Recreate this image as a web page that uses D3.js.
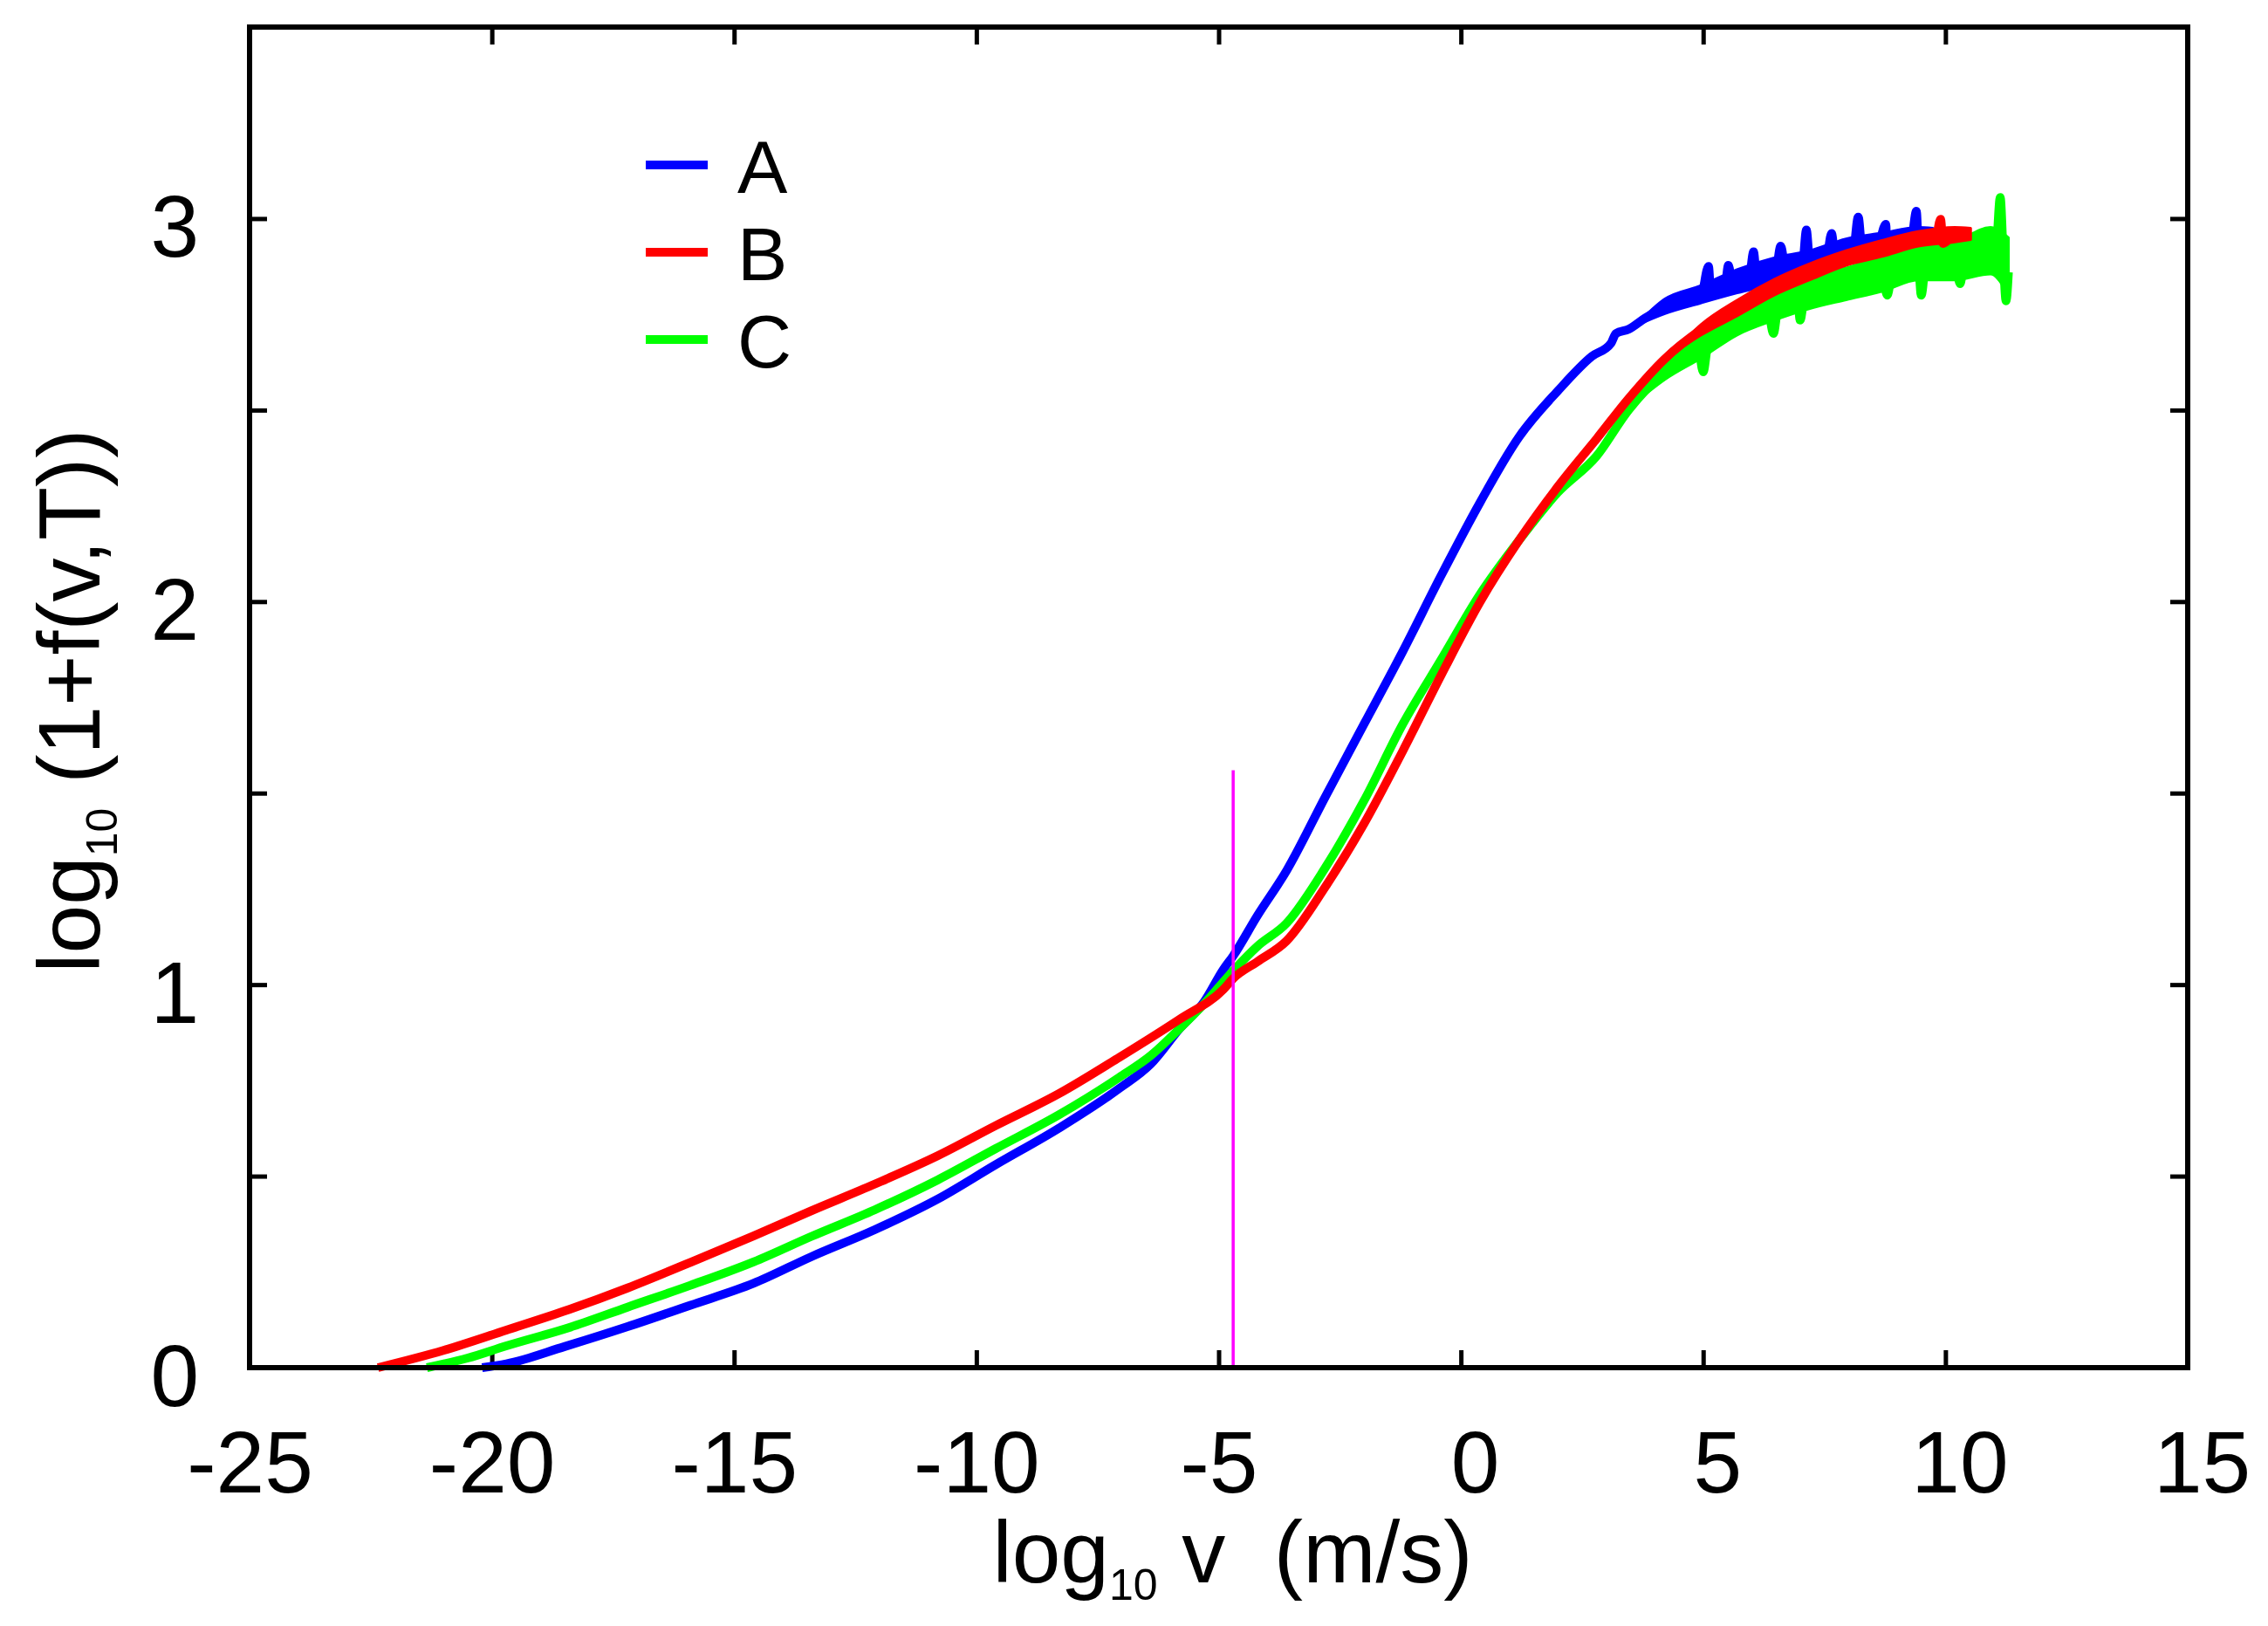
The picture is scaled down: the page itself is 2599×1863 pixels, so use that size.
<!DOCTYPE html>
<html>
<head>
<meta charset="utf-8">
<script src="https://cdn.jsdelivr.net/npm/d3@7"></script>
<style>
  html, body { margin: 0; padding: 0; background: #fff; }
  svg { display: block; }
</style>
</head>
<body>
<svg class="chart"></svg>
<script>
// values
const seriesNames = ["A", "B", "C"];
const seriesColours = ["#0000ff", "#ff0000", "#00ff00"];

const xTicks = [-25, -20, -15, -10, -5, 0, 5, 10, 15];
const yTicks = [0, 0.5, 1, 1.5, 2, 2.5, 3, 3.5];
const yLabelled = [0, 1, 2, 3];

const markerX = -4.7;
const markerTop = 1.56;

// [x, y] along each trace (spikes included where they stand out)
const curveA = [
    [-20.2, 0.0], [-19.7, 0.01], [-18.5, 0.055], [-17.2, 0.107], [-15.9, 0.163],
    [-14.6, 0.22], [-13.4, 0.29], [-12.1, 0.36], [-10.8, 0.44], [-9.6, 0.53],
    [-8.3, 0.625], [-7.05, 0.729], [-6.4, 0.793], [-5.8, 0.886], [-5.3, 0.955],
    [-4.9, 1.04], [-4.7, 1.075], [-4.2, 1.18], [-3.6, 1.297], [-2.8, 1.49],
    [-2.0, 1.68], [-1.2, 1.87], [-0.4, 2.07], [0.4, 2.26], [1.2, 2.43],
    [2.0, 2.55], [2.7, 2.64], [3.1, 2.675], [3.2, 2.70], [3.46, 2.711],
    [3.8, 2.74], [4.21, 2.77], [4.6, 2.79], [4.96, 2.80], [5.11, 2.875],
    [5.16, 2.80], [5.45, 2.82], [5.52, 2.878], [5.6, 2.83], [5.95, 2.845],
    [6.04, 2.913], [6.1, 2.85], [6.5, 2.863], [6.6, 2.928], [6.7, 2.868],
    [7.05, 2.88], [7.13, 2.97], [7.2, 2.886], [7.55, 2.9], [7.65, 2.961],
    [7.72, 2.905], [8.1, 2.918], [8.2, 3.004], [8.28, 2.92], [8.6, 2.928],
    [8.77, 2.985], [8.8, 2.87], [8.85, 2.935], [9.3, 2.95], [9.4, 3.019],
    [9.45, 2.90], [9.5, 2.955], [9.74, 2.96]
];

const curveB = [
    [-22.35, 0.0], [-21.0, 0.045], [-19.7, 0.098], [-18.4, 0.152], [-17.2, 0.208],
    [-15.9, 0.275], [-14.6, 0.344], [-13.4, 0.41], [-12.1, 0.479], [-10.8, 0.553],
    [-9.6, 0.632], [-8.3, 0.715], [-7.05, 0.81], [-5.8, 0.91], [-4.9, 0.988],
    [-4.7, 1.016], [-4.2, 1.06], [-3.6, 1.114], [-2.8, 1.255], [-2.0, 1.42],
    [-1.2, 1.61], [-0.4, 1.81], [0.4, 2.0], [1.2, 2.16], [2.0, 2.30],
    [2.8, 2.425], [3.46, 2.53], [4.21, 2.634], [4.96, 2.71], [5.7, 2.766],
    [6.45, 2.82], [7.2, 2.861], [7.95, 2.897], [8.69, 2.922], [9.44, 2.947],
    [9.8, 2.95], [9.9, 2.998], [9.95, 2.935], [10.19, 2.958], [10.52, 2.962]
];

const curveC = [
    [-21.34, 0.0], [-20.5, 0.025], [-19.7, 0.057], [-18.4, 0.105], [-17.2, 0.158],
    [-15.9, 0.215], [-14.6, 0.276], [-13.4, 0.343], [-12.1, 0.412], [-10.8, 0.49],
    [-9.6, 0.572], [-8.3, 0.66], [-7.05, 0.758], [-6.4, 0.815], [-5.8, 0.886],
    [-5.3, 0.95], [-4.7, 1.036], [-4.2, 1.1], [-3.6, 1.16], [-2.8, 1.305],
    [-2.0, 1.48], [-1.2, 1.68], [-0.4, 1.85], [0.4, 2.02], [1.2, 2.16],
    [2.0, 2.285], [2.8, 2.38], [3.46, 2.50], [4.21, 2.60], [4.9, 2.66],
    [5.0, 2.60], [5.1, 2.67], [5.7, 2.727], [6.35, 2.75], [6.45, 2.70],
    [6.55, 2.77], [6.95, 2.79], [7.0, 2.735], [7.1, 2.80], [7.95, 2.83],
    [8.69, 2.855], [8.8, 2.80], [8.9, 2.86], [9.44, 2.882], [9.5, 2.80],
    [9.6, 2.885], [10.2, 2.89], [10.3, 2.83], [10.4, 2.895], [10.93, 2.91],
    [11.05, 2.93], [11.13, 3.055], [11.2, 2.88], [11.25, 2.785], [11.3, 2.86]
];

// [x, lower edge, upper edge] of the noisy tail of each trace
const bandA = [
    [3.6, 2.72, 2.72], [4.21, 2.752, 2.79], [4.96, 2.78, 2.825], [5.7, 2.806, 2.867],
    [6.45, 2.829, 2.897], [7.2, 2.856, 2.916], [7.95, 2.886, 2.947],
    [8.69, 2.901, 2.962], [9.44, 2.932, 2.977], [9.74, 2.94, 2.975]
];

const bandB = [
    [4.3, 2.64, 2.64], [4.96, 2.696, 2.724], [5.7, 2.746, 2.787], [6.45, 2.799, 2.84],
    [7.2, 2.84, 2.882], [7.95, 2.878, 2.916], [8.69, 2.901, 2.943],
    [9.44, 2.928, 2.966], [10.19, 2.939, 2.977], [10.52, 2.945, 2.975]
];

const bandC = [
    [3.6, 2.52, 2.52], [4.21, 2.58, 2.622], [4.96, 2.636, 2.696], [5.7, 2.696, 2.757],
    [6.45, 2.734, 2.802], [7.2, 2.765, 2.848], [7.95, 2.788, 2.871],
    [8.69, 2.81, 2.901], [9.44, 2.84, 2.924], [10.19, 2.84, 2.939],
    [10.93, 2.855, 2.977], [11.3, 2.8, 2.95]
];

const curves = [curveA, curveB, curveC];
const bands = [bandA, bandB, bandC];
const drawOrder = [0, 2, 1];

const totalWidth = 2599;
const totalHeight = 1863;
const margin = {top: 31, right: 92, bottom: 296, left: 286};
const width = totalWidth - margin.left - margin.right;
const height = totalHeight - margin.top - margin.bottom;
const fontFamily = '"Liberation Sans", Arial, Helvetica, sans-serif';

const svg = d3.select(".chart")
    .attr("width", totalWidth)
    .attr("height", totalHeight)
    .style("background", "#fff");

const chart = svg.append("g")
    .attr("transform", `translate(${margin.left}, ${margin.top})`);

const x = d3.scaleLinear().domain([-25, 15]).range([0, width]);
const y = d3.scaleLinear().domain([0, 3.5]).range([height, 0]);

// axes: inward ticks on all four sides
function styleAxis(g) {
    g.select(".domain").remove();
    g.selectAll(".tick line").attr("stroke", "#000").attr("stroke-width", 5);
    g.selectAll(".tick text")
        .attr("fill", "#000")
        .style("font-family", fontFamily)
        .style("font-size", "100px");
}

chart.append("g")
    .attr("class", "axis")
    .attr("transform", `translate(0,${height})`)
    .call(d3.axisBottom(x).tickValues(xTicks).tickSize(-20).tickPadding(72)
        .tickFormat((d) => String(d)))
    .call(styleAxis)
    .selectAll(".tick text")
    .attr("dx", (d) => d >= 0 ? 16 : 0);

chart.append("g")
    .attr("class", "axis")
    .call(d3.axisTop(x).tickValues(xTicks).tickSize(-20).tickFormat(""))
    .call(styleAxis);

chart.append("g")
    .attr("class", "axis")
    .call(d3.axisLeft(y).tickValues(yTicks).tickSize(-20).tickPadding(58)
        .tickFormat((d) => yLabelled.includes(d) ? String(d) : ""))
    .call(styleAxis)
    .selectAll(".tick text")
    .attr("dy", "0.43em");

chart.append("g")
    .attr("class", "axis")
    .attr("transform", `translate(${width},0)`)
    .call(d3.axisRight(y).tickValues(yTicks).tickSize(-20).tickFormat(""))
    .call(styleAxis);

// curves
const line = d3.line()
    .curve(d3.curveMonotoneX)
    .x((d) => x(d[0]))
    .y((d) => y(d[1]));

const band = d3.area()
    .curve(d3.curveMonotoneX)
    .x((d) => x(d[0]))
    .y0((d) => y(d[1]))
    .y1((d) => y(d[2]));

drawOrder.forEach((i) => {
    chart.append("path")
        .attr("class", "band")
        .attr("d", band(bands[i]))
        .attr("fill", seriesColours[i])
        .attr("stroke", seriesColours[i])
        .attr("stroke-width", 3)
        .attr("stroke-linejoin", "round");

    chart.append("path")
        .attr("class", "curve")
        .attr("d", line(curves[i]))
        .attr("fill", "none")
        .attr("stroke", seriesColours[i])
        .attr("stroke-width", 10)
        .attr("stroke-linejoin", "round");
});

// vertical marker
chart.append("line")
    .attr("x1", x(markerX))
    .attr("x2", x(markerX))
    .attr("y1", y(0))
    .attr("y2", y(markerTop))
    .attr("stroke", "#ff00ff")
    .attr("stroke-width", 3.5);

// frame
chart.append("rect")
    .attr("x", 0)
    .attr("y", 0)
    .attr("width", width)
    .attr("height", height)
    .attr("fill", "none")
    .attr("stroke", "#000")
    .attr("stroke-width", 6);

// legend
const legend = svg.append("g").attr("class", "legend");

legend.selectAll("line")
    .data(seriesNames)
    .enter().append("line")
    .attr("x1", 740)
    .attr("x2", 811)
    .attr("y1", (d, i) => 189 + i * 100)
    .attr("y2", (d, i) => 189 + i * 100)
    .attr("stroke", (d, i) => seriesColours[i])
    .attr("stroke-width", 10);

legend.selectAll("text")
    .data(seriesNames)
    .enter().append("text")
    .attr("x", 845)
    .attr("y", (d, i) => 221 + i * 100)
    .style("font-family", fontFamily)
    .style("font-size", "86px")
    .text((d) => d);

// axis titles
const xTitle = svg.append("text")
    .attr("x", margin.left + width / 2 + 16)
    .attr("y", 1813)
    .attr("text-anchor", "middle")
    .style("font-family", fontFamily)
    .style("font-size", "100px")
    .style("white-space", "pre");
xTitle.append("tspan").text("log");
xTitle.append("tspan").attr("dy", 20).style("font-size", "50px").text("10");
xTitle.append("tspan").attr("dy", -20).text(" v  (m/s)");

const yTitle = svg.append("text")
    .attr("transform", `translate(114, ${margin.top + height / 2 + 4}) rotate(-90)`)
    .attr("text-anchor", "middle")
    .style("font-family", fontFamily)
    .style("font-size", "100px")
    .style("white-space", "pre");
yTitle.append("tspan").text("log");
yTitle.append("tspan").attr("dy", 20).style("font-size", "50px").text("10");
yTitle.append("tspan").attr("dy", -20).text(" (1+f(v,T))");
</script>
</body>
</html>
